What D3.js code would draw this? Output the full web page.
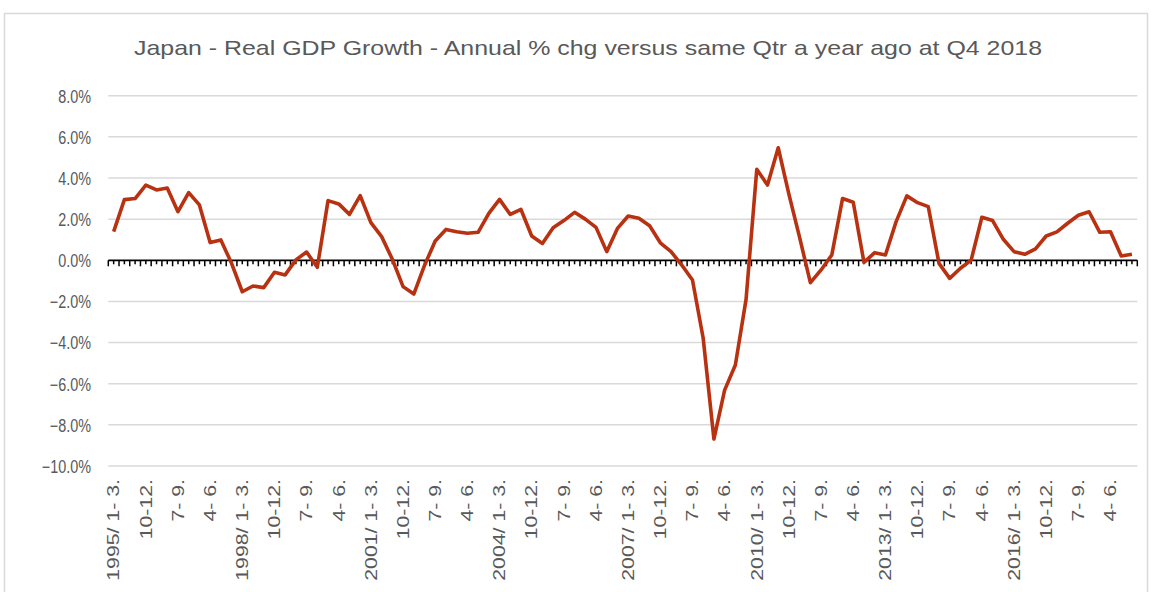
<!DOCTYPE html>
<html>
<head>
<meta charset="utf-8">
<script src="https://cdn.jsdelivr.net/npm/d3@7"></script>
<style>
  html, body { margin: 0; padding: 0; background: #fff; }
  svg { display: block; }
  text { font-family: "Liberation Sans", Arial, sans-serif; fill: #595959; }
</style>
</head>
<body>
<svg id="chart" width="1152" height="592"></svg>
<script>
// ---- Data ----
const title = "Japan - Real GDP Growth - Annual % chg versus same Qtr a year ago at Q4 2018";
const years = d3.range(1995, 2019);
const quarterNames = ["1- 3.", "4- 6.", "7- 9.", "10-12."];
const growth = [
  1.39, 2.95, 3.0, 3.65, 3.42, 3.51, 2.36, 3.29, 2.69, 0.86, 0.99, -0.15,
  -1.53, -1.25, -1.33, -0.58, -0.71, 0.02, 0.4, -0.34, 2.9, 2.74, 2.23, 3.14,
  1.83, 1.15, 0.05, -1.28, -1.64, -0.25, 0.94, 1.5, 1.39, 1.31, 1.36, 2.28,
  2.96, 2.23, 2.47, 1.18, 0.82, 1.58, 1.93, 2.33, 2.0, 1.6, 0.42, 1.55,
  2.15, 2.04, 1.68, 0.85, 0.42, -0.23, -0.96, -3.79, -8.69, -6.31, -5.09, -1.9,
  4.42, 3.66, 5.47, 3.2, 1.1, -1.09, -0.47, 0.26, 3.0, 2.82, -0.1, 0.37,
  0.26, 1.88, 3.13, 2.8, 2.61, -0.15, -0.88, -0.39, 0.01, 2.09, 1.93, 1.02,
  0.42, 0.29, 0.55, 1.18, 1.38, 1.8, 2.19, 2.36, 1.36, 1.39, 0.21, 0.29
];
const yTicks = [8, 6, 4, 2, 0, -2, -4, -6, -8, -10];
// category labels: "1995/ 1- 3." for Q1, otherwise quarter name
const categories = [];
years.forEach(y => quarterNames.forEach((q, i) => categories.push(i === 0 ? y + "/ " + q : q)));
const labelEvery = 3;

// ---- Layout ----
const svg = d3.select("#chart");
const plot = { left: 108.3, right: 1137.3, top: 95.7, bottom: 466 };

// outer frame
svg.append("rect")
  .attr("x", 4.5).attr("y", 13.5).attr("width", 1143).attr("height", 620)
  .attr("fill", "none").attr("stroke", "#d9d9d9").attr("stroke-width", 1.5);

const x = d3.scaleBand().domain(d3.range(categories.length)).range([plot.left, plot.right]).padding(0);
const y = d3.scaleLinear().domain([-10, 8]).range([plot.bottom, plot.top]);
const cx = i => x(i) + x.bandwidth() / 2;

function stretch(sel, factor) {
  sel.each(function () {
    const len = this.getComputedTextLength();
    d3.select(this).attr("textLength", len * factor).attr("lengthAdjust", "spacingAndGlyphs");
  });
}

// title
const t = svg.append("text")
  .attr("x", 588).attr("y", 55)
  .attr("text-anchor", "middle")
  .style("font-size", "21px")
  .text(title);
t.attr("textLength", 908).attr("lengthAdjust", "spacingAndGlyphs");

// gridlines (except zero)
svg.append("g").selectAll("line")
  .data(yTicks.filter(v => v !== 0))
  .join("line")
  .attr("x1", plot.left).attr("x2", plot.right)
  .attr("y1", d => y(d)).attr("y2", d => y(d))
  .attr("stroke", "#d9d9d9").attr("stroke-width", 1.5);

// y labels
const yl = svg.append("g").selectAll("text")
  .data(yTicks)
  .join("text")
  .attr("x", 91).attr("y", d => y(d) + 6.8)
  .attr("text-anchor", "end")
  .style("font-size", "18px")
  .text(d => d3.format(".1f")(d) + "%");
stretch(yl, 0.8);

// zero axis line with ticks
const y0 = y(0);
const ax = svg.append("g");
ax.selectAll("line.major")
  .data(d3.range(categories.length + 1))
  .join("line")
  .attr("class", "major")
  .attr("x1", i => i < categories.length ? x(i) : plot.right)
  .attr("x2", i => i < categories.length ? x(i) : plot.right)
  .attr("y1", y0).attr("y2", y0 + 6)
  .attr("stroke", "#000").attr("stroke-width", 1.5);
ax.selectAll("line.minor")
  .data(d3.range(categories.length))
  .join("line")
  .attr("class", "minor")
  .attr("x1", i => cx(i)).attr("x2", i => cx(i))
  .attr("y1", y0).attr("y2", y0 + 4)
  .attr("stroke", "#000").attr("stroke-width", 1.5);
ax.append("line")
  .attr("x1", plot.left).attr("x2", plot.right)
  .attr("y1", y0).attr("y2", y0)
  .attr("stroke", "#000").attr("stroke-width", 1.8);

// x labels
const xl = svg.append("g").selectAll("text")
  .data(d3.range(0, categories.length, labelEvery))
  .join("text")
  .attr("transform", i => `translate(${cx(i)},479) rotate(-90)`)
  .attr("text-anchor", "end")
  .attr("dy", "0.36em")
  .style("font-size", "16px")
  .text(i => categories[i]);
stretch(xl, 1.33);

// line
const line = d3.line().x((d, i) => cx(i)).y(d => y(d));
svg.append("path")
  .datum(growth)
  .attr("d", line)
  .attr("fill", "none")
  .attr("stroke", "#b83212")
  .attr("stroke-width", 3.6)
  .attr("stroke-linejoin", "round");
</script>
</body>
</html>
